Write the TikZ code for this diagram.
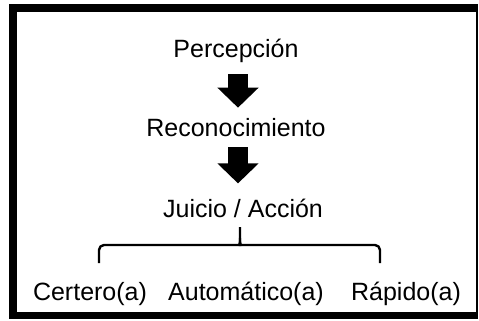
\documentclass[tikz,border=0pt]{standalone}
\usepackage{fontspec}
\setmainfont{Liberation Sans}
\usetikzlibrary{arrows.meta}

\begin{document}
\begin{tikzpicture}[x=1pt,y=-1pt,
  word/.style={anchor=base,inner sep=0pt,font=\fontsize{25}{30}\selectfont},
  bigarrow/.style={line width=20pt,-{Triangle[width=40pt,length=20pt]}},
  curly/.style={line width=2.4pt,line join=round}]
\useasboundingbox (0,0) rectangle (479,321);
\fill (9,4) rectangle (478,319);
\fill[white] (17,12) rectangle (476,312);
\node[word] (perc) at (236,57) {Percepción};
\node[word] (rec) at (236,136) {Reconocimiento};
\node[word] (jui) at (243,217) {Juicio / Acción};
\node[word] (cer) at (90,300) {Certero(a)};
\node[word] (aut) at (246,300) {Automático(a)};
\node[word] (rap) at (406,300) {Rápido(a)};
\draw [bigarrow,shorten <=12pt,shorten >=10pt] (238,0 |- perc.south) -- (238,0 |- rec.north);
\draw [bigarrow,shorten <=11pt,shorten >=15pt] (238,0 |- rec.south) -- (238,0 |- jui.north);
% brace under Juicio / Accion
\coordinate (bl) at (99,263);
\coordinate (br) at (380,263);
\coordinate (tip) at (240,227);
\draw [curly,rounded corners=5pt] (bl) -- (99,245) -- (236,245)
  [sharp corners] .. controls (240,245) and (240,243) .. (240,238) -- (tip);
\draw [curly,rounded corners=5pt] (br) -- (380,245) -- (244,245)
  [sharp corners] .. controls (240,245) and (240,243) .. (240,238);
\end{tikzpicture}
\end{document}
